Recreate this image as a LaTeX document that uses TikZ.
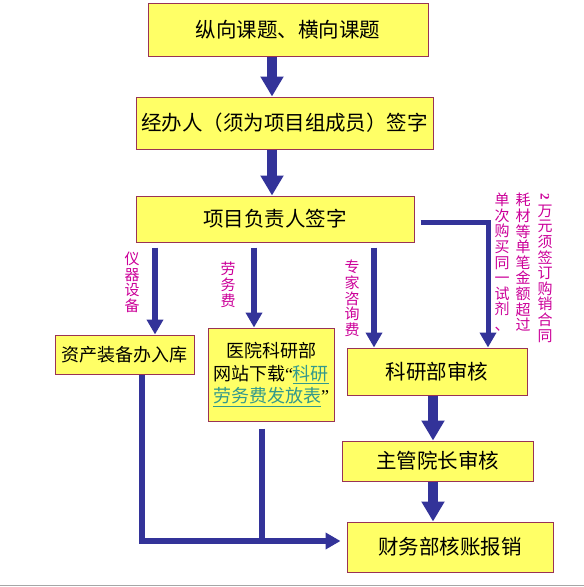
\documentclass[tikz,border=0pt]{standalone}
\usepackage{fontspec}
\usepackage{graphicx}
\setmainfont{Noto Sans CJK SC}
\newfontfamily\lat{Liberation Serif}
\usetikzlibrary{arrows.meta}
\definecolor{boxfill}{HTML}{FFFF66}
\definecolor{boxline}{HTML}{993355}
\definecolor{arr}{HTML}{333399}
\definecolor{lab}{HTML}{CC0099}
\definecolor{lnk}{HTML}{33998C}
\begin{document}
\begin{tikzpicture}[x=1pt,y=-1pt,
 box/.style={draw=boxline, line width=1pt, fill=boxfill, inner sep=0pt, align=center, font=\fontsize{20.5}{24}\selectfont},
 bigarrow/.style={draw=arr, line width=10pt, -{Triangle[width=22pt,length=20pt]}},
 smallarrow/.style={draw=arr, line width=6pt, -{Triangle[width=16pt,length=15pt]}},
 thinarrow/.style={draw=arr, line width=5pt, -{Triangle[width=16pt,length=15pt]}},
 wire/.style={draw=arr, line width=6pt},
 vlabel/.style={text=lab, inner sep=0pt, align=center, anchor=north, font=\fontsize{15}{15.6}\selectfont}]
\useasboundingbox[fill=white] (0,0) rectangle (584,587);

% boxes
\node[box, minimum width=280pt, minimum height=53pt] (b1) at (288,29.5) {纵向课题、横向课题};
\node[box, minimum width=297pt, minimum height=52pt] (b2) at (284.5,123) {经办人（须为项目组成员）签字};
\node[box, minimum width=278pt, minimum height=46pt] (b3) at (275,219) {项目负责人签字};
\node[box, minimum width=139pt, minimum height=39pt, font=\fontsize{18}{22}\selectfont] (b4) at (124.5,354.5) {资产装备办入库};
\node[box, minimum width=126pt, minimum height=93pt, font=\fontsize{18}{22.5}\selectfont] (b5) at (271,374.5)
  {医院科研部\\网站下载{\lat “}\textcolor{lnk}{\underline{科研}}\\\textcolor{lnk}{\underline{劳务费发放表}}{\lat ”}};
\node[box, minimum width=180pt, minimum height=47pt] (b6) at (437,371.5) {科研部审核};
\node[box, minimum width=191pt, minimum height=40pt] (b7) at (437.5,461) {主管院长审核};
\node[box, minimum width=206pt, minimum height=50pt] (b8) at (450,547) {财务部核账报销};

% helper coordinates
\coordinate (xa) at (272,0);
\coordinate (xb) at (433,0);
\coordinate (x1) at (155,0);
\coordinate (x2) at (254,0);
\coordinate (x3) at (374,0);
\coordinate (x4) at (488,222);
\coordinate (ja) at (142,541);
\coordinate (jb) at (262,541);

% main arrows
\draw[bigarrow] (xa |- b1.south) -- (xa |- b2.north);
\draw[bigarrow] (xa |- b2.south) -- (xa |- b3.north);
\draw[bigarrow] (xb |- b6.south) -- (xb |- b7.north);
\draw[bigarrow] (xb |- b7.south) -- (xb |- b8.north);

% branch arrows
\draw[smallarrow, shorten <=5pt] (x1 |- b3.south) -- (x1 |- b4.north);
\draw[smallarrow, shorten <=5pt] (x2 |- b3.south) -- (x2 |- b5.north);
\draw[smallarrow, shorten <=5pt] (x3 |- b3.south) -- (x3 |- b6.north);
\draw[thinarrow, shorten <=6pt] (b3.east |- x4) -- (x4) -- (x4 |- b6.north);

% bottom collector
\draw[wire] (ja |- b4.south) -- (ja);
\draw[wire, shorten <=7pt] (jb |- b5.south) -- (jb);
\draw[smallarrow, shorten >=6pt] ([xshift=-3pt]ja) -- (ja -| b8.west);

% labels
\node[vlabel] (l1) at (132,252) {仪\\器\\设\\备};
\node[vlabel] (l2) at (228,262) {劳\\务\\费};
\node[vlabel] (l3) at (352,260) {专\\家\\咨\\询\\费};
\node[vlabel] (l4) at (502,193) {单\\次\\购\\买\\同\\一\\试\\剂\\、};
\node[vlabel] (l5) at (523,193) {耗\\材\\等\\单\\笔\\金\\额\\超\\过};
\node[vlabel] (l6) at (545,193) {\rotatebox[origin=c]{-90}{\lat\bfseries\fontsize{13}{13}\selectfont 2}\\万\\元\\须\\签\\订\\购\\销\\合\\同};

% bottom frame line
\draw[gray!70, line width=1pt] (0,585) -- (584,585);
\end{tikzpicture}
\end{document}
